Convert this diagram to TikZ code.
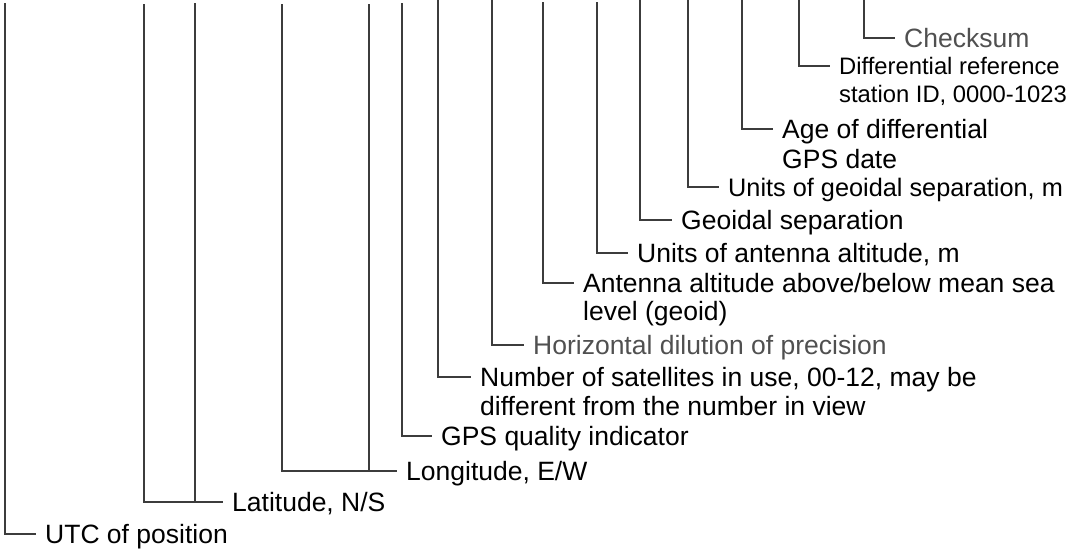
\documentclass[tikz,border=0pt]{standalone}
\usepackage{fontspec}
\setmainfont{Liberation Sans}
\usetikzlibrary{positioning}
\definecolor{leadline}{RGB}{60,60,60}
\definecolor{labeltext}{RGB}{0,0,0}
\definecolor{labelgrey}{RGB}{80,80,80}
\tikzset{
  lead/.style={draw=leadline, line width=1.1pt},
  fieldlabel/.style={
    anchor=west, inner xsep=9pt, inner ysep=0pt,
    text height=19pt, text depth=0pt,
    font=\fontsize{26.5}{30}\selectfont, text=labeltext
  },
  fieldlabelcont/.style={fieldlabel, anchor=base west},
  fieldlabelnarrow/.style={fieldlabel, text height=18.1pt, font=\fontsize{25.3}{29}\selectfont},
  fieldlabelsmall/.style={fieldlabel, text height=17pt, font=\fontsize{23.8}{28}\selectfont},
  fieldlabelsmallcont/.style={fieldlabelsmall, anchor=base west},
  greylabel/.style={text=labelgrey}
}

\begin{document}
\begin{tikzpicture}[x=1pt, y=-1pt]
\useasboundingbox (0,0) rectangle (1068,549);

% ---- top ends of the leads (sentence fields) ----
\coordinate (utcTop) at (5,3);
\coordinate (latTopA) at (144,4);
\coordinate (latTopB) at (195,3);
\coordinate (lonTopA) at (282,4);
\coordinate (lonTopB) at (369,4);
\coordinate (gpsTop) at (402,3);
\coordinate (satTop) at (438,0);
\coordinate (hdopTop) at (492,0);
\coordinate (altTop) at (543,2);
\coordinate (altUnitTop) at (597,2);
\coordinate (geoTop) at (640,0);
\coordinate (geoUnitTop) at (688,0);
\coordinate (ageTop) at (742,0);
\coordinate (stationTop) at (799,0);
\coordinate (sumTop) at (864,0);

% ---- field labels ----
\node[fieldlabel] (utc) at (36,534) {UTC of position};
\node[fieldlabel] (lat) at (223,502) {Latitude, N/S};
\node[fieldlabel] (lon) at (397,471) {Longitude, E/W};
\node[fieldlabel] (gps) at (432,436) {GPS quality indicator};
\node[fieldlabel] (sat) at (471,377) {Number of satellites in use, 00-12, may be};
\node[fieldlabelcont] (satB) at ([yshift=-29pt]sat.base west) {different from the number in view};
\node[fieldlabel, greylabel] (hdop) at (524,345) {Horizontal dilution of precision};
\node[fieldlabel] (alt) at (574,283) {Antenna altitude above/below mean sea};
\node[fieldlabelcont] (altB) at ([yshift=-28pt]alt.base west) {level (geoid)};
\node[fieldlabel] (altUnit) at (628,253) {Units of antenna altitude, m};
\node[fieldlabel] (geo) at (672,220) {Geoidal separation};
\node[fieldlabelnarrow] (geoUnit) at (719,187) {Units of geoidal separation, m};
\node[fieldlabel] (age) at (773,129) {Age of differential};
\node[fieldlabelcont] (ageB) at ([yshift=-30pt]age.base west) {GPS date};
\node[fieldlabelsmall] (station) at (830,66) {Differential reference};
\node[fieldlabelsmallcont] (stationB) at ([yshift=-28pt]station.base west) {station ID, 0000-1023};
\node[fieldlabel, greylabel] (sum) at (895,38) {Checksum};

% ---- leads ----
\draw[lead] (utcTop) |- (utc.west);
\draw[lead] (latTopA) |- (lat.west);
\draw[lead] (latTopB) -- (latTopB |- lat.west);
\draw[lead] (lonTopA) |- (lon.west);
\draw[lead] (lonTopB) -- (lonTopB |- lon.west);
\draw[lead] (gpsTop) |- (gps.west);
\draw[lead] (satTop) |- (sat.west);
\draw[lead] (hdopTop) |- (hdop.west);
\draw[lead] (altTop) |- (alt.west);
\draw[lead] (altUnitTop) |- (altUnit.west);
\draw[lead] (geoTop) |- (geo.west);
\draw[lead] (geoUnitTop) |- (geoUnit.west);
\draw[lead] (ageTop) |- (age.west);
\draw[lead] (stationTop) |- (station.west);
\draw[lead] (sumTop) |- (sum.west);

\end{tikzpicture}
\end{document}
